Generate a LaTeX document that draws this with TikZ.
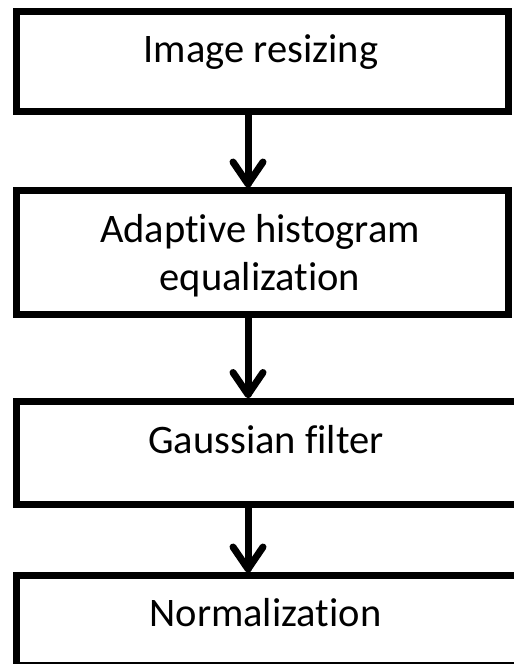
\documentclass[tikz,border=0pt]{standalone}
\usepackage{fontspec}
\setmainfont{Carlito}[Ligatures=NoCommon]
\usetikzlibrary{calc}
\tikzset{
  stepbox/.style={draw=black, line width=7pt, rectangle, inner sep=0pt, fill=white},
  lbl/.style={anchor=base, inner sep=0pt, align=center, font=\fontsize{40.5}{48}\selectfont},
  conn/.style={draw=black, line width=7pt, line cap=round, line join=round},
}
\begin{document}
\begin{tikzpicture}[x=1pt,y=1pt]
\useasboundingbox (0,0) rectangle (514,-664);
\fill[white] (0,0) rectangle (514,-664);
\node[stepbox, minimum width=492pt, minimum height=100pt] (b1) at (262.5,-61.5) {};
\node[stepbox, minimum width=492pt, minimum height=124pt] (b2) at (262.5,-252.5) {};
\node[stepbox, minimum width=513.5pt, minimum height=103pt] (b3) at (273.25,-452.5) {};
\node[stepbox, minimum width=513.5pt, minimum height=89.5pt] (b4) at (273.25,-620.25) {};
\node[lbl] (t1) at (261,-62.3) {Image resizing};
\node[lbl] (t2) at (260,-290.3) {Adaptive histogram\\equalization};
\node[lbl] (t3) at (266,-453) {Gaussian filter};
\node[lbl] (t4) at (265.5,-626) {Normalization};
\coordinate (ax) at (248,0);
\draw[conn] (b1.south -| ax) -- ($(b2.north -| ax)+(0,3)$) coordinate (h1);
\draw[conn] ($(h1)+(-15,22)$) -- (h1) -- ($(h1)+(15,22)$);
\draw[conn] (b2.south -| ax) -- ($(b3.north -| ax)+(0,3)$) coordinate (h2);
\draw[conn] ($(h2)+(-15,22)$) -- (h2) -- ($(h2)+(15,22)$);
\draw[conn] (b3.south -| ax) -- ($(b4.north -| ax)+(0,3)$) coordinate (h3);
\draw[conn] ($(h3)+(-15,22)$) -- (h3) -- ($(h3)+(15,22)$);
\end{tikzpicture}
\end{document}
